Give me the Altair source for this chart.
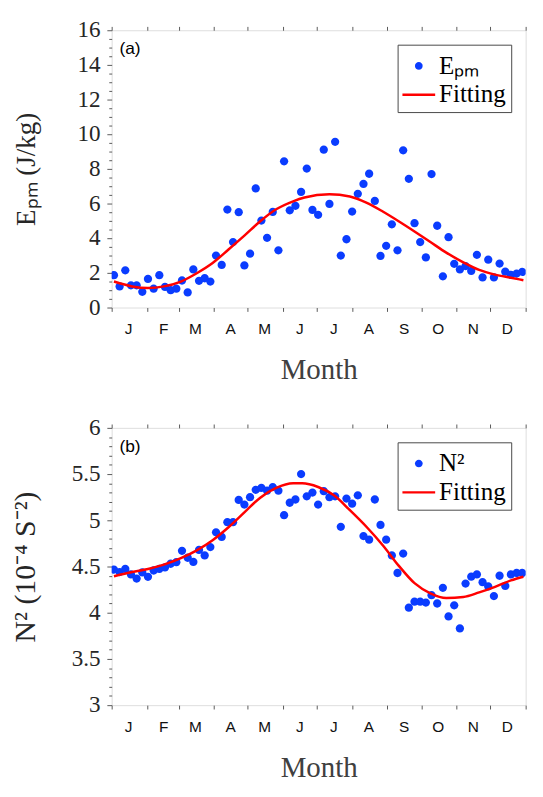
import json
import altair as alt
import pandas as pd

# ---------------- data ----------------
month_edges = [0, 31, 59, 90, 120, 151, 181, 212, 243, 273, 304, 334, 365]
month_letters = ["J", "F", "M", "A", "M", "J", "J", "A", "S", "O", "N", "D", ""]

# pentad centres (day of year)
days = [2, 7, 12, 17, 22, 27, 32, 37, 42, 47, 52, 57, 62, 67, 72, 77, 82, 87, 92, 97,
        102, 107, 112, 117, 122, 127, 132, 137, 142, 147, 152, 157, 162, 167, 172, 177,
        182, 187, 192, 197, 202, 207, 212, 217, 222, 227, 232, 237, 242, 247, 252, 257,
        262, 267, 272, 277, 282, 287, 292, 297, 302, 307, 312, 317, 322, 327, 332, 337,
        342, 347, 352, 357, 362]

epm = [1.87, 1.22, 2.15, 1.28, 1.28, 0.91, 1.65, 1.09, 1.87, 1.19,
       1.00, 1.09, 1.56, 0.87, 2.20, 1.54, 1.69, 1.50, 3.00, 2.46,
       5.65, 3.78, 5.50, 2.43, 3.11, 6.87, 5.02, 4.02, 5.52, 3.30,
       8.44, 5.61, 5.87, 6.67, 8.02, 5.63, 5.35, 9.11, 5.98, 9.56,
       3.00, 3.94, 5.54, 6.56, 7.13, 7.72, 6.15, 2.98, 3.56, 4.80,
       3.30, 9.07, 7.43, 4.87, 3.78, 2.89, 7.70, 4.72, 1.80, 4.06,
       2.52, 2.20, 2.39, 2.11, 3.04, 1.74, 2.76, 1.74, 2.54, 2.07,
       1.89, 1.96, 2.06]

n2 = [4.467, 4.44, 4.474, 4.415, 4.37, 4.436, 4.388, 4.457, 4.474, 4.49,
      4.53, 4.547, 4.67, 4.595, 4.55, 4.68, 4.62, 4.71, 4.87, 4.82,
      4.98, 4.98, 5.22, 5.17, 5.25, 5.33, 5.35, 5.32, 5.36, 5.32,
      5.055, 5.19, 5.225, 5.50, 5.26, 5.30, 5.17, 5.315, 5.25, 5.26,
      4.93, 5.235, 5.18, 5.27, 4.83, 4.79, 5.225, 4.95, 4.79, 4.62,
      4.43, 4.64, 4.055, 4.12, 4.12, 4.11, 4.19, 4.10, 4.27, 3.96,
      4.08, 3.83, 4.315, 4.39, 4.415, 4.33, 4.285, 4.18, 4.40, 4.29,
      4.415, 4.43, 4.43]

fit_days_a = [2, 18, 32, 46, 61, 75, 89, 103, 117, 131, 145, 160, 170, 192, 210,
              225, 239, 253, 267, 281, 295, 310, 324, 338, 352, 363]
fit_epm = [1.50, 1.22, 1.13, 1.22, 1.50, 1.98, 2.57, 3.35, 4.15, 4.98, 5.67, 6.13,
           6.35, 6.54, 6.41, 6.04, 5.54, 4.98, 4.39, 3.78, 3.17, 2.61, 2.17, 1.90,
           1.72, 1.58]

fit_days_b = [2, 18, 32, 46, 61, 75, 89, 103, 117, 131, 145, 160, 168, 182, 196,
              210, 225, 239, 253, 267, 281, 295, 310, 324, 338, 352, 363]
fit_n2 = [4.395, 4.44, 4.474, 4.52, 4.59, 4.675, 4.785, 4.925, 5.086, 5.245, 5.35,
          5.40, 5.40, 5.36, 5.27, 5.11, 4.925, 4.73, 4.51, 4.32, 4.21, 4.16, 4.17,
          4.22, 4.28, 4.35, 4.39]

ticks_a = [i * 0.5 for i in range(33)]             # 0 .. 16 step 0.5
ticks_b = [round(3 + i * 0.1, 1) for i in range(31)]  # 3 .. 6 step 0.1

# ---------------- style ----------------
BLUE = "#0a3cff"
RED = "#ff0000"
AXC = "#555555"
TXT = "#262626"
SERIF = "Liberation Serif"
SANS = "Liberation Sans"
W, H = 430, 288

R0 = 0.235
circle_path = f"M{R0},0A{R0},{R0} 0 1,1 -{R0},0A{R0},{R0} 0 1,1 {R0},0Z"
line_path = "M-1,-0.075L1,-0.075L1,0.075L-1,0.075Z"
LEG_SIZE = 34 ** 2
PT_SIZE = 1340

label_expr = f"{json.dumps(month_letters)}[indexof({json.dumps(month_edges)}, datum.value)]"


def panel(pts_y, fit_x, fit_y, series_label, ydomain, yticks, major_test, ytitle,
          ytitle_size, tag):
    xscale = alt.Scale(domain=[0, 365], nice=False, zero=False)
    yscale = alt.Scale(domain=ydomain, nice=False, zero=False)

    pts = pd.DataFrame({"day": days, "value": pts_y, "series": [series_label] * len(days)})
    fit = pd.DataFrame({"day": fit_x, "value": fit_y})

    x_bottom = alt.Axis(
        orient="bottom", values=month_edges, domain=False, grid=False,
        tickSize=4, tickColor=AXC, tickWidth=1,
        labelExpr=label_expr, labelOffset=17, labelFlush=False, labelOverlap=False,
        labelFont=SANS, labelFontSize=16, labelColor="#111111", labelPadding=10,
        title="Month", titleFont=SERIF, titleFontSize=30, titleFontWeight="normal",
        titleColor="#404040", titlePadding=20,
    )
    x_top = alt.Axis(
        orient="top", values=month_edges, domain=False, grid=False, labels=False,
        tickSize=4, tickColor=AXC, title=None,
    )
    y_left = alt.Axis(
        orient="left", values=yticks, domain=False, grid=False,
        tickSize={"condition": {"test": major_test, "value": 5}, "value": 3},
        tickColor=AXC, tickWidth=1,
        labelExpr=f"({major_test}) ? format(datum.value, '~g') : ''",
        labelOverlap=False, labelFlush=False,
        labelFont=SERIF, labelFontSize=24, labelColor=TXT, labelPadding=7,
        title=ytitle, titleFont=SERIF, titleFontSize=ytitle_size, titleFontWeight="normal",
        titleColor=TXT, titleAngle=270, titleBaseline="alphabetic", titleAlign="center",
        titleX=-80, titleY=H / 2,
    )

    leg = alt.Legend(
        title=None, orient="top-right", offset=15, padding=5,
        strokeColor="#444444", fillColor="white", cornerRadius=0,
        labelFont=SERIF, labelFontSize=26, labelColor="black", labelOffset=4,
        symbolSize=LEG_SIZE, symbolStrokeWidth=0, rowPadding=0,
    )

    points = alt.Chart(pts).mark_point(
        filled=True, size=PT_SIZE, opacity=1, clip=True
    ).encode(
        x=alt.X("day:Q", scale=xscale, axis=x_bottom),
        y=alt.Y("value:Q", scale=yscale, axis=y_left),
        color=alt.Color("series:N", scale=alt.Scale(domain=[series_label, "Fitting"], range=[BLUE, RED]), legend=leg),
        shape=alt.Shape("series:N", scale=alt.Scale(domain=[series_label, "Fitting"], range=[circle_path, line_path]), legend=leg),
    )

    line = alt.Chart(fit).mark_line(
        color=RED, strokeWidth=2.6, interpolate="monotone", clip=True
    ).encode(
        x=alt.X("day:Q", scale=xscale, axis=x_top),
        y=alt.Y("value:Q", scale=yscale, axis=None),
    )

    label = alt.Chart(pd.DataFrame({"t": [tag]})).mark_text(
        align="left", baseline="top", font=SANS, fontSize=18, color="black"
    ).encode(text="t:N", x=alt.value(8), y=alt.value(11))

    return alt.layer(points, line, label).resolve_axis(
        x="independent", y="independent"
    ).properties(width=W, height=H)


top = panel(epm, fit_days_a, fit_epm, "Eₚₘ", [0, 16], ticks_a,
            "datum.value % 2 === 0", "Eₚₘ (J/kg)", 28, "(a)")
bottom = panel(n2, fit_days_b, fit_n2, "N²", [3, 6], ticks_b,
               "abs(datum.value * 2 - round(datum.value * 2)) < 0.001",
               "N² (10⁻⁴ S⁻²)", 31, "(b)")

chart = alt.vconcat(top, bottom, spacing=125, bounds="flush").resolve_scale(
    color="independent", shape="independent"
).properties(
    padding={"left": 10, "top": 3, "right": 0, "bottom": 0}
).configure_view(
    stroke=AXC, strokeWidth=1
).configure(background="white")

chart.save("out.html", embed_options={"renderer": "svg", "actions": False})
